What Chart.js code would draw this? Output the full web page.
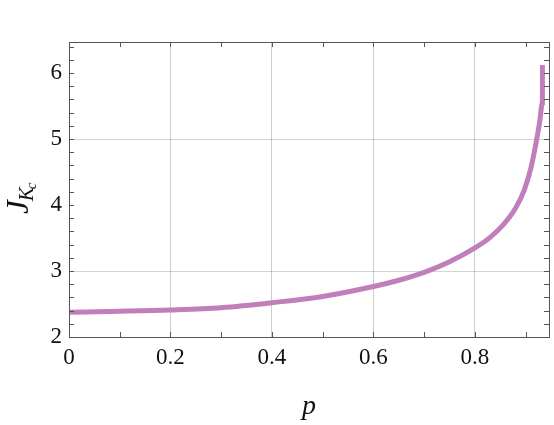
<!DOCTYPE html>
<html>
<head>
<meta charset="utf-8">
<script src="https://cdn.jsdelivr.net/npm/chart.js@4"></script>
<style>
  html, body { margin: 0; padding: 0; background: #fff; }
  canvas { display: block; }
</style>
</head>
<body>
<canvas id="chart" width="554" height="425"></canvas>
<script>
// Data
const pValues = [0, 0.1, 0.2, 0.3, 0.4, 0.5, 0.6, 0.65, 0.7, 0.75, 0.8, 0.83, 0.857, 0.88, 0.897, 0.91, 0.92, 0.928, 0.933, 0.933];
const jValues = [2.375, 2.39, 2.41, 2.445, 2.52, 2.615, 2.765, 2.86, 2.98, 3.14, 3.35, 3.51, 3.71, 3.95, 4.22, 4.55, 4.92, 5.28, 5.55, 6.12];
const xTicks = [0, 0.2, 0.4, 0.6, 0.8];
const yTicks = [2, 3, 4, 5, 6];
const yGridValues = [3, 5];

const serif = "'Liberation Serif', 'DejaVu Serif', serif";

// Frame, inward tick marks and axis titles
const framePlugin = {
    id: 'frame',
    afterDraw(chart) {
        const ctx = chart.ctx;
        const area = chart.chartArea;
        const xs = chart.scales.x;
        const ys = chart.scales.y;
        ctx.save();
        ctx.strokeStyle = '#555';
        ctx.lineWidth = 1;
        ctx.beginPath();
        // minor x ticks every 0.1
        for (let i = 1; i <= 9; i++) {
            const px = Math.round(xs.getPixelForValue(i / 10)) + 0.5;
            ctx.moveTo(px, area.bottom); ctx.lineTo(px, area.bottom - 5);
            ctx.moveTo(px, area.top); ctx.lineTo(px, area.top + 5);
        }
        // y ticks every 0.2
        for (let i = 1; i <= 22; i++) {
            const v = 2 + i * 0.2;
            if (v > ys.max) break;
            const py = Math.round(ys.getPixelForValue(v)) + 0.5;
            ctx.moveTo(area.left, py); ctx.lineTo(area.left + 5, py);
            ctx.moveTo(area.right, py); ctx.lineTo(area.right - 5, py);
        }
        ctx.stroke();
        ctx.strokeRect(Math.round(area.left) + 0.5, Math.round(area.top) + 0.5,
            Math.round(area.right - area.left), Math.round(area.bottom - area.top));

        // x title
        ctx.fillStyle = '#111';
        ctx.textAlign = 'center';
        ctx.textBaseline = 'alphabetic';
        ctx.font = 'italic 28px ' + serif;
        ctx.fillText('p', (area.left + area.right) / 2, 414);

        // y title J_{K_c}
        ctx.translate(28, 214);
        ctx.rotate(-Math.PI / 2);
        ctx.textAlign = 'left';
        ctx.font = 'italic 31px ' + serif;
        ctx.fillText('J', 0, 0);
        const jw = ctx.measureText('J').width;
        ctx.font = 'italic 21px ' + serif;
        ctx.fillText('K', jw - 1, 5);
        const kw = ctx.measureText('K').width;
        ctx.font = 'italic 15px ' + serif;
        ctx.fillText('c', jw + kw - 3, 8);
        ctx.restore();
    }
};

new Chart(document.getElementById('chart'), {
    type: 'line',
    data: {
        datasets: [{
            data: pValues.map((p, i) => ({ x: p, y: jValues[i] })),
            borderColor: '#c07fba',
            borderWidth: 5,
            pointRadius: 0,
            cubicInterpolationMode: 'monotone',
            fill: false
        }]
    },
    options: {
        responsive: false,
        animation: false,
        layout: { padding: { left: 0, top: 42, right: 5, bottom: 0 } },
        plugins: {
            legend: { display: false },
            tooltip: { enabled: false }
        },
        scales: {
            x: {
                type: 'linear',
                min: 0,
                max: 0.946,
                border: { display: false },
                afterBuildTicks: (scale) => { scale.ticks = xTicks.map(v => ({ value: v })); },
                afterFit: (scale) => { scale.height = 88; },
                grid: {
                    drawTicks: false,
                    color: (c) => c.tick && c.tick.value > 0 ? 'rgba(0,0,0,0.2)' : 'rgba(0,0,0,0)'
                },
                ticks: {
                    padding: 7,
                    color: '#111',
                    font: { family: serif, size: 23 },
                    callback: (v) => String(v)
                }
            },
            y: {
                min: 2,
                max: 6.47,
                border: { display: false },
                afterBuildTicks: (scale) => { scale.ticks = yTicks.map(v => ({ value: v })); },
                afterFit: (scale) => { scale.width = 69; },
                grid: {
                    drawTicks: false,
                    color: (c) => c.tick && yGridValues.includes(c.tick.value) ? 'rgba(0,0,0,0.17)' : 'rgba(0,0,0,0)'
                },
                ticks: {
                    padding: 7,
                    color: '#111',
                    font: { family: serif, size: 23 },
                    callback: (v) => String(v)
                }
            }
        }
    },
    plugins: [framePlugin]
});
</script>
</body>
</html>
